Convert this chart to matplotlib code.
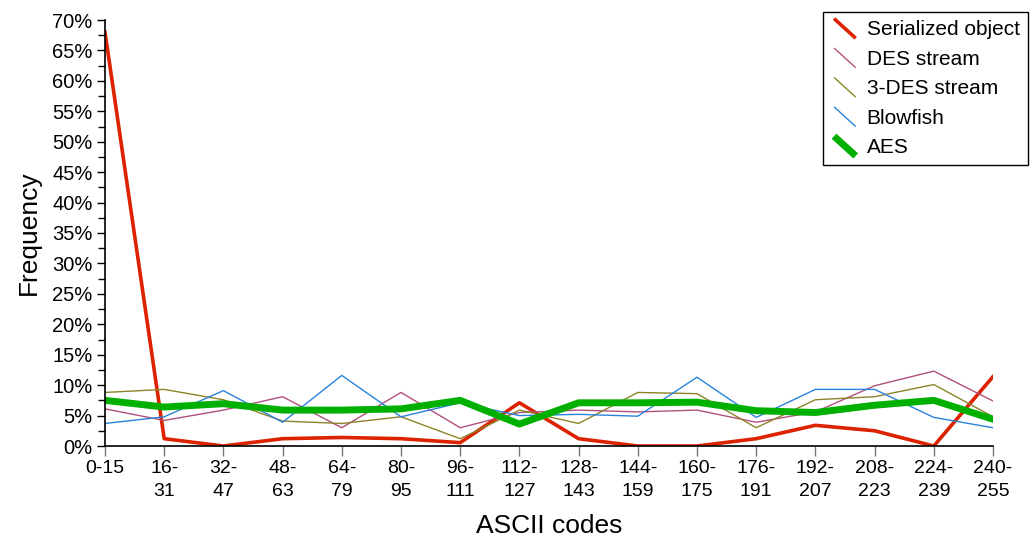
import matplotlib
matplotlib.use("Agg")
import matplotlib.pyplot as plt
from matplotlib.legend_handler import HandlerLine2D
from matplotlib.lines import Line2D
from matplotlib.ticker import MultipleLocator, FuncFormatter

plt.rcParams['font.family'] = ['Liberation Sans', 'DejaVu Sans']

categories = ["0-15", "16-\n31", "32-\n47", "48-\n63", "64-\n79", "80-\n95", "96-\n111",
              "112-\n127", "128-\n143", "144-\n159", "160-\n175", "176-\n191",
              "192-\n207", "208-\n223", "224-\n239", "240-\n255"]

serialized = [68.0, 1.2, 0.0, 1.2, 1.4, 1.2, 0.55, 7.1, 1.2, 0.0, 0.0, 1.2, 3.4, 2.5, 0.0, 11.4]
des = [6.1, 4.2, 5.9, 8.1, 3.0, 8.8, 3.0, 5.5, 5.9, 5.6, 5.9, 3.9, 5.6, 9.9, 12.3, 7.4]
tdes = [8.8, 9.3, 7.6, 4.1, 3.7, 4.8, 1.2, 5.9, 3.7, 8.8, 8.6, 3.0, 7.6, 8.1, 10.1, 4.8]
blowfish = [3.7, 4.8, 9.1, 3.9, 11.6, 4.8, 7.1, 5.0, 5.2, 4.9, 11.3, 4.7, 9.3, 9.3, 4.7, 3.0]
aes = [7.5, 6.4, 6.95, 5.9, 5.9, 6.1, 7.5, 3.6, 7.1, 7.1, 7.2, 5.8, 5.5, 6.7, 7.5, 4.4]


class DiagHandler(HandlerLine2D):
    # legend sample drawn as a short diagonal stroke
    def create_artists(self, legend, orig_handle, xdescent, ydescent, width, height, fontsize, trans):
        x0 = width * 0.1 - xdescent
        x1 = width * 0.9 - xdescent
        y0 = height * 1.15 - ydescent
        y1 = -height * 0.2 - ydescent
        ln = Line2D([x0, x1], [y0, y1], color=orig_handle.get_color(),
                    linewidth=orig_handle.get_linewidth(), solid_capstyle='butt')
        ln.set_transform(trans)
        return [ln]


fig = plt.figure(figsize=(10.33, 5.42), dpi=100)
ax = fig.add_axes([105 / 1033, 1 - 446 / 542, (993 - 105) / 1033, (446 - 20) / 542])

x = range(len(categories))
l1, = ax.plot(x, serialized, color='#dd2200', lw=2.6, label='Serialized object')
l2, = ax.plot(x, des, color='#b0507e', lw=1.0, label='DES stream')
l3, = ax.plot(x, tdes, color='#8c8428', lw=1.0, label='3-DES stream')
l4, = ax.plot(x, blowfish, color='#2a82dc', lw=1.0, label='Blowfish')
l5, = ax.plot(x, aes, color='#00b000', lw=5.0, label='AES')

ax.set_xlim(0, 15)
ax.set_ylim(0, 70)
ax.set_xticks(list(x))
ax.set_xticklabels(categories, fontsize=14, linespacing=1.45)
ax.yaxis.set_major_locator(MultipleLocator(5))
ax.yaxis.set_minor_locator(MultipleLocator(2.5))
ax.yaxis.set_major_formatter(FuncFormatter(lambda v, p: "%d%%" % v))
ax.tick_params(axis='y', labelsize=14.5, length=6, width=1, direction='out', pad=3)
ax.tick_params(axis='y', which='minor', length=5, width=1)
ax.tick_params(axis='x', length=7, width=1, color='#777777', direction='out', pad=3)
for s in ['top', 'right']:
    ax.spines[s].set_visible(False)
ax.spines['left'].set_linewidth(1.2)
ax.spines['bottom'].set_linewidth(1.2)

ax.set_ylabel('Frequency', fontsize=19, labelpad=8)
ax.set_xlabel('ASCII codes', fontsize=19, labelpad=10)

leg = fig.legend(handles=[l1, l2, l3, l4, l5], loc='upper left',
                 bbox_to_anchor=(823 / 1033, 1 - 12 / 542), borderaxespad=0,
                 fontsize=15, handler_map={Line2D: DiagHandler()},
                 handlelength=1.3, handletextpad=0.4, labelspacing=0.5,
                 borderpad=0.4, fancybox=False, framealpha=1, edgecolor='black')
leg.get_frame().set_linewidth(1.0)

fig.savefig('out.png', dpi=100)
